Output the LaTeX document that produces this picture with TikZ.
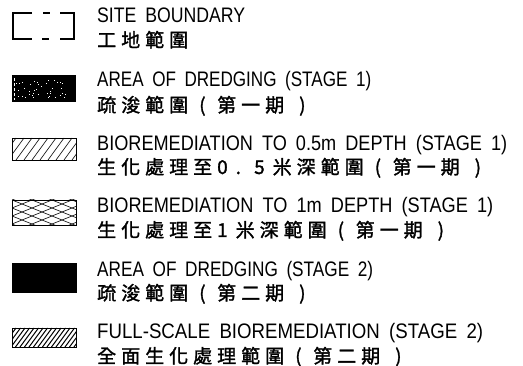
\documentclass[tikz,border=0pt]{standalone}
\usepackage{fontspec}
\setmainfont{Liberation Sans}
\newfontfamily\cjk{Noto Sans CJK TC}[FakeBold=1.5]
\usepackage{graphicx}
\newlength\zp \setlength\zp{24pt}
\newlength\zdp \setlength\zdp{18.5pt}
\makeatletter
\def\zhcell#1{\ifx(#1\makebox[\zp][l]{\hspace{6pt}(}\else\ifx)#1\makebox[\zp][l]{\hspace{10pt})}\else\makebox[\zp][l]{#1}\fi\fi}
\def\zh#1{\zh@loop#1\relax}
\def\zh@loop#1{\ifx\relax#1\else\zhcell{#1}\expandafter\zh@loop\fi}
\def\zd#1{\zd@loop#1\relax}
\def\zd@loop#1{\ifx\relax#1\else\makebox[\zdp][l]{#1}\expandafter\zd@loop\fi}
\makeatother
\newsavebox\fitbox
\newcommand\fitw[2]{\sbox\fitbox{#2}\pgfmathsetmacro\fitsx{#1/\wd\fitbox}\scalebox{\fitsx}[1]{\usebox\fitbox}}
\newcommand\ws{\hspace{0.5em}}
\begin{document}
\begin{tikzpicture}[x=1pt,y=-1pt,
  en/.style={anchor=base west,inner sep=0pt,font=\fontsize{21}{21}\selectfont},
  zh/.style={anchor=base west,inner sep=0pt,font=\fontsize{19}{19}\selectfont\cjk},
  bracket/.style={line width=2.2pt},
  swbox/.style={draw,line width=0.8pt},
  hatchA/.style={line width=0.6pt},
  hatchB/.style={line width=1pt}]
\useasboundingbox (0,0) rectangle (523,366);

% 1 site boundary
\draw[bracket] (32,13) -| (13,39) -- (32,39);
\draw[bracket] (60,13) -| (74,39) -- (60,39);
\draw[bracket] (43,13) -- (50,13);
\draw[bracket] (42,39) -- (49,39);
\node[en] (e1) at (97,23) {\fitw{148}{SITE\ws BOUNDARY}};
\node[zh] (c1) at (97,47) {\zh{工地範圍}};

% 2 dredging stage 1
\fill (12,75) rectangle (76,102);
\pgfmathsetseed{7}
\foreach \i in {1,...,40}{
  \pgfmathsetmacro\px{16+50*rnd}
  \pgfmathsetmacro\py{79+19*rnd}
  \fill[white] (\px,\py) rectangle ++(0.9,0.9);
}
\draw[white,line width=0.7pt,dash pattern=on 3pt off 2pt] (14,78) -- (14,100);
\node[en] (e2) at (97,87) {\fitw{274}{AREA\ws OF\ws DREDGING\ws (STAGE\ws 1)}};
\node[zh] (c2) at (97,112) {\zh{疏浚範圍(第一期)}};

% 3 bioremediation 0.5 m
\begin{scope}
\clip (12,138) rectangle (76,160);
\foreach \k in {-16,-8,...,80} \draw[hatchA] (\k,160) -- (\k+16,138);
\end{scope}
\draw[swbox] (12,138) rectangle (76,160);
\node[en] (e3) at (97,151) {\fitw{410}{BIOREMEDIATION\ws TO\ws 0.5m\ws DEPTH\ws (STAGE\ws 1)}};
\node[zh] (c3) at (97,174) {\zh{生化處理至}\zd{0.5}\zh{米深範圍(第一期)}};

% 4 bioremediation 1 m
\begin{scope}
\clip (12,200) rectangle (76,225);
\foreach \k in {176,184,...,250} {
  \draw[hatchA] (12,\k) -- (76,\k+25.6);
  \draw[hatchA] (12,\k) -- (76,\k-25.6);
}
\end{scope}
\draw[swbox] (12,200) rectangle (76,225);
\node[en] (e4) at (97,213) {\fitw{396}{BIOREMEDIATION\ws TO\ws 1m\ws DEPTH\ws (STAGE\ws 1)}};
\node[zh] (c4) at (97,237) {\zh{生化處理至}\zd{1}\zh{米深範圍(第一期)}};

% 5 dredging stage 2
\fill (12,263) rectangle (77,293);
\node[en] (e5) at (97,277) {\fitw{276}{AREA\ws OF\ws DREDGING\ws (STAGE\ws 2)}};
\node[zh] (c5) at (97,300) {\zh{疏浚範圍(第二期)}};

% 6 full-scale bioremediation
\begin{scope}
\clip (12,328) rectangle (76,347);
\foreach \k in {-16,-11.5,...,80} \draw[hatchB] (\k,347) -- (\k+14,328);
\end{scope}
\draw[swbox] (12,328) rectangle (76,347);
\node[en] (e6) at (97,339) {\fitw{386}{FULL-SCALE\ws BIOREMEDIATION\ws (STAGE\ws 2)}};
\node[zh] (c6) at (97,363) {\zh{全面生化處理範圍(第二期)}};
\end{tikzpicture}
\end{document}
